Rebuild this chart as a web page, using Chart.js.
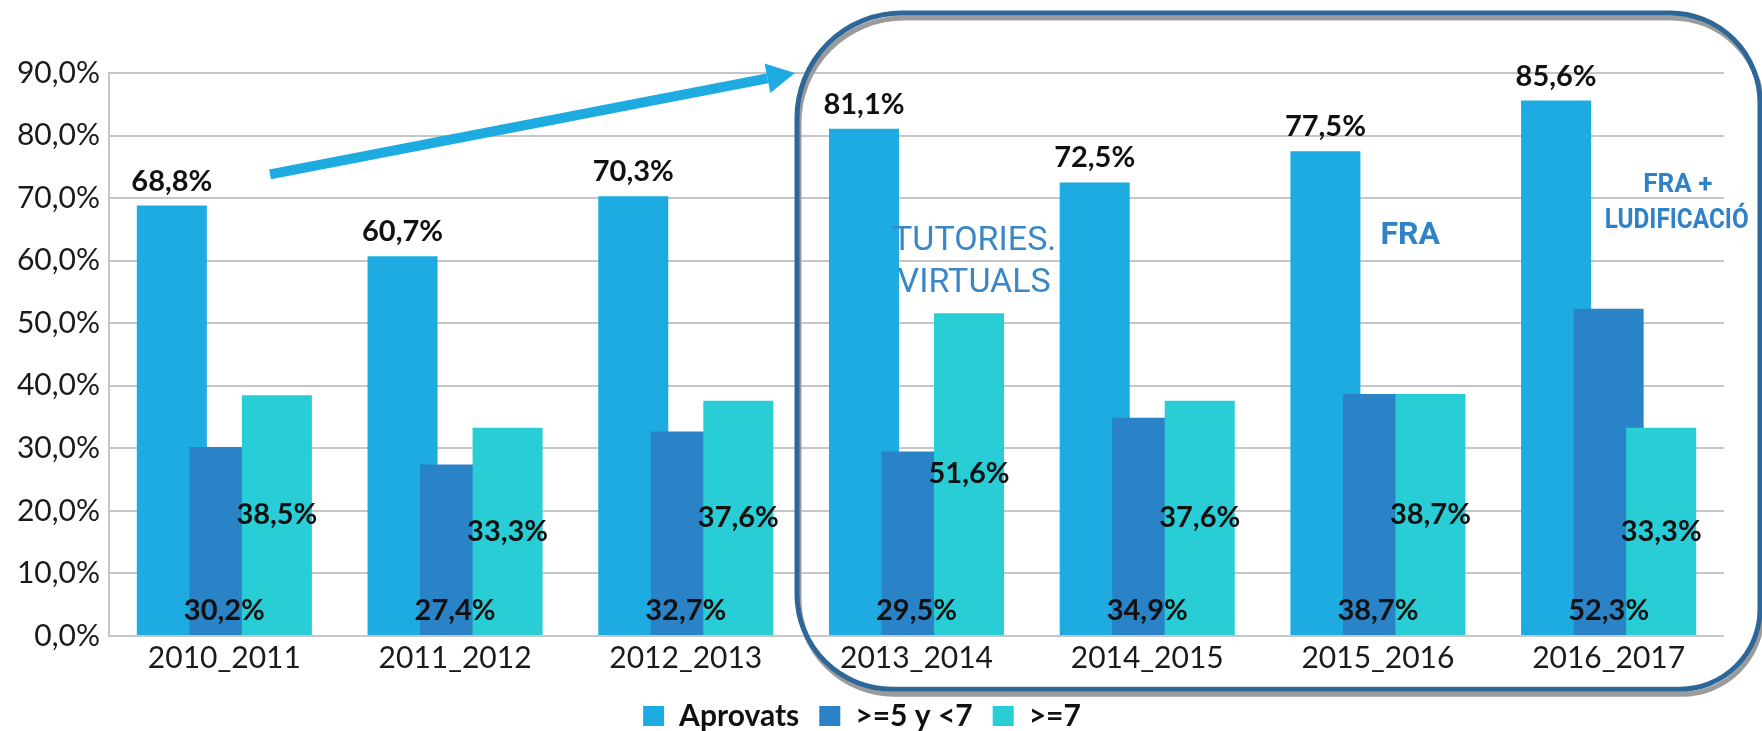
<!DOCTYPE html>
<html>
<head>
<meta charset="utf-8">
<script src="https://cdn.jsdelivr.net/npm/chart.js@4.4.0/dist/chart.umd.min.js"></script>
<style>
  html, body { margin: 0; padding: 0; background: #fff; overflow: hidden; }
  #wrap { position: absolute; left: 0; top: 0; width: 1762px; height: 741px; }
</style>
</head>
<body>
<div id="wrap"><canvas id="barChart"></canvas></div>
<script>
// data
const courses = ["2010_2011", "2011_2012", "2012_2013", "2013_2014", "2014_2015", "2015_2016", "2016_2017"];
const aprovats = [68.8, 60.7, 70.3, 81.1, 72.5, 77.5, 85.6];
const between5and7 = [30.2, 27.4, 32.7, 29.5, 34.9, 38.7, 52.3];
const over7 = [38.5, 33.3, 37.6, 51.6, 37.6, 38.7, 33.3];
const yTicks = [0, 10, 20, 30, 40, 50, 60, 70, 80, 90];

const barColors = ["#1eabe2", "#2a83c6", "#29cdd6"];
// where each series puts its value label
const labelPlace = ["end", "base", "center"];

const fmt = (v) => v.toFixed(1).replace(".", ",") + "%";

// draw series 0 first so the later ones overlap it (like Excel's overlap)
const drawOrder = {
    id: "drawOrder",
    beforeDatasetsDraw(chart) {
        chart.data.datasets.forEach((ds, i) => {
            const meta = chart.getDatasetMeta(i);
            if (!meta.hidden) meta.controller.draw();
        });
        return false;
    }
};

const extras = {
    id: "extras",
    afterDraw(chart) {
        const ctx = chart.ctx;
        const xs = chart.scales.x, ys = chart.scales.y;
        const P = (xi, yv) => [xs.getPixelForValue(xi), ys.getPixelForValue(yv)];
        ctx.save();

        // value labels
        ctx.font = "bold 29px Lato";
        ctx.fillStyle = "#111";
        ctx.textAlign = "center";
        chart.data.datasets.forEach((ds, di) => {
            chart.getDatasetMeta(di).data.forEach((bar, i) => {
                let t = fmt(ds.data[i]);
                if (labelPlace[di] == "end") {
                    ctx.textBaseline = "alphabetic";
                    ctx.fillText(t, bar.x, bar.y - 15);
                } else if (labelPlace[di] == "base") {
                    ctx.textBaseline = "alphabetic";
                    ctx.fillText(t, bar.x, bar.base - 15);
                } else {
                    ctx.textBaseline = "middle";
                    ctx.fillText(t, bar.x, (bar.y + bar.base) / 2);
                }
            });
        });

        // notes (sx squeezes the text a little, the source font is narrow)
        const notes = [
            { text: "TUTORIES.", x: 3.25, y: 61.7, font: "34px Roboto", color: "#3a87c5", sx: 1 },
            { text: "VIRTUALS", x: 3.25, y: 55.0, font: "34px Roboto", color: "#3a87c5", sx: 1 },
            { text: "FRA", x: 5.14, y: 62.6, font: "bold 32px Roboto", color: "#2f82c6", sx: 1 },
            { text: "FRA +", x: 6.30, y: 71.0, font: "bold 26px Roboto", color: "#2f82c6", sx: 1 },
            { text: "LUDIFICACIÓ", x: 6.295, y: 65.3, font: "bold 27px Roboto", color: "#2f82c6", sx: 0.9 }
        ];
        ctx.textBaseline = "alphabetic";
        notes.forEach(n => {
            let [x, y] = P(n.x, n.y);
            ctx.save();
            ctx.translate(x, y);
            ctx.scale(n.sx, 1);
            ctx.font = n.font;
            ctx.fillStyle = n.color;
            ctx.fillText(n.text, 0, 0);
            ctx.restore();
        });

        // arrow
        let [x0, y0] = P(0.198, 73.8);
        let [x1, y1] = P(2.473, 90.0);
        let ang = Math.atan2(y1 - y0, x1 - x0);
        let headLen = 28, headHalf = 15;
        let bx = x1 - headLen * Math.cos(ang), by = y1 - headLen * Math.sin(ang);
        ctx.strokeStyle = barColors[0];
        ctx.fillStyle = barColors[0];
        ctx.lineWidth = 10;
        ctx.beginPath();
        ctx.moveTo(x0, y0);
        ctx.lineTo(bx, by);
        ctx.stroke();
        ctx.beginPath();
        ctx.moveTo(x1, y1);
        ctx.lineTo(bx + headHalf * Math.sin(ang), by - headHalf * Math.cos(ang));
        ctx.lineTo(bx - headHalf * Math.sin(ang), by + headHalf * Math.cos(ang));
        ctx.closePath();
        ctx.fill();

        // rounded frame round the last four courses
        let [l, t] = P(2.482, 99.6);
        let [r, b] = P(6.656, -8.5);
        const radii = [105, 90, 80, 95];
        ctx.lineWidth = 5;
        ctx.strokeStyle = "#9b9b9b";
        ctx.beginPath();
        ctx.roundRect(l + 2, t + 5, r - l, b - t, radii);
        ctx.stroke();
        ctx.strokeStyle = "#2d6799";
        ctx.beginPath();
        ctx.roundRect(l, t, r - l, b - t, radii);
        ctx.stroke();

        ctx.restore();
    }
};

const ctx = document.getElementById("barChart").getContext("2d");

new Chart(ctx, {
    type: "bar",
    data: {
        labels: courses,
        datasets: [
            { label: "Aprovats", data: aprovats, backgroundColor: barColors[0] },
            { label: ">=5 y <7", data: between5and7, backgroundColor: barColors[1] },
            { label: ">=7", data: over7, backgroundColor: barColors[2] }
        ]
    },
    options: {
        responsive: true,
        maintainAspectRatio: false,
        animation: false,
        layout: { padding: { top: 73, right: 38, left: 0, bottom: 0 } },
        datasets: {
            bar: { categoryPercentage: 0.683, barPercentage: 1.333, borderWidth: 0 }
        },
        plugins: {
            tooltip: { enabled: false },
            legend: {
                position: "bottom",
                labels: {
                    boxWidth: 21,
                    boxHeight: 20,
                    padding: 20,
                    color: "#111",
                    font: { family: "Lato", size: 30, weight: "bold" }
                }
            }
        },
        scales: {
            x: {
                grid: { display: false },
                border: { display: false },
                ticks: { color: "#1a1a1a", padding: -4, font: { family: "Lato", size: 30 } },
                afterFit: (s) => { s.height = 45; }
            },
            y: {
                min: 0,
                max: 90,
                afterBuildTicks: (s) => { s.ticks = yTicks.map(v => ({ value: v })); },
                grid: { color: "#c6c6c6", lineWidth: 2, drawTicks: false },
                border: { display: true, color: "#c6c6c6", width: 2 },
                ticks: {
                    color: "#1a1a1a",
                    padding: 9,
                    font: { family: "Lato", size: 30 },
                    callback: (v) => fmt(v)
                },
                afterFit: (s) => { s.width = 109; }
            }
        }
    },
    plugins: [drawOrder, extras]
});
</script>
</body>
</html>
